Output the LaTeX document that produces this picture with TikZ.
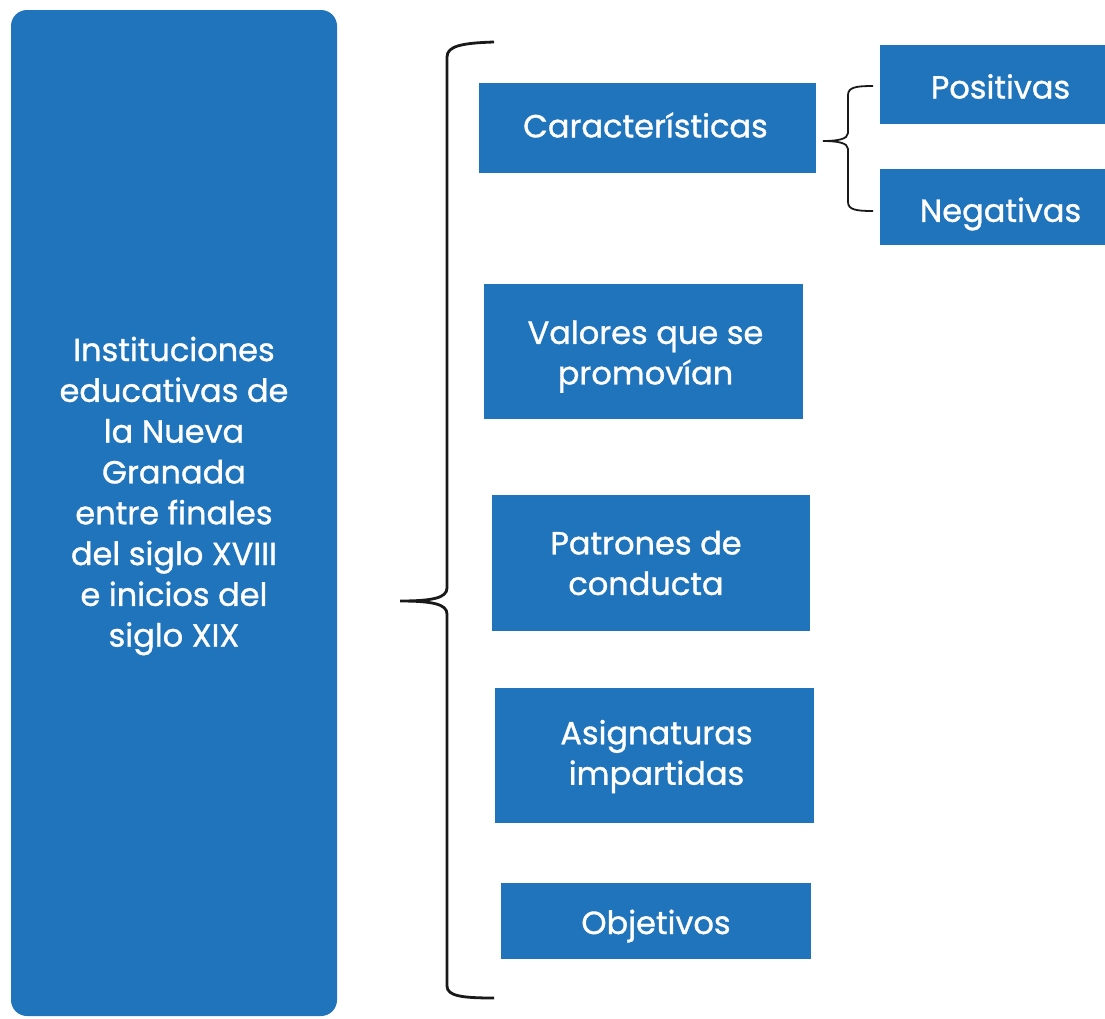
\documentclass[tikz,border=0pt]{standalone}
\usepackage{fontspec}
\setmainfont{Poppins}[FakeBold=1.0]
\definecolor{boxblue}{HTML}{1F74BC}
\begin{document}
\begin{tikzpicture}[x=1pt,y=-1pt,
  bx/.style={fill=boxblue,draw=none,text=white,font=\fontsize{32}{40.5}\selectfont,align=center,inner sep=0pt},
  brace/.style={line width=2.8pt,draw=black!90}]
\useasboundingbox (0,0) rectangle (1105,1018);
% main box
\fill[boxblue,rounded corners=16pt] (11,10) rectangle (337,1016);
\node[text=white,font=\fontsize{32}{40.8}\selectfont,align=center] (main) at (174,496)
  {Instituciones\\educativas de\\la Nueva\\Granada\\entre finales\\del siglo XVIII\\e inicios del\\siglo XIX};
% boxes
\fill[boxblue] (479,83) rectangle (816,173) node[midway,bx,xshift=-2pt,yshift=3pt] (car) {Características};
\fill[boxblue] (484,284) rectangle (803,419) node[midway,bx,xshift=2pt,yshift=-5pt] (val) {Valores que se\\promovían};
\fill[boxblue] (492,495) rectangle (810,631) node[midway,bx,xshift=-5pt] (pat) {Patrones de\\conducta};
\fill[boxblue] (495,688) rectangle (814,823) node[midway,bx,xshift=2pt,yshift=-1pt] (asi) {Asignaturas\\impartidas};
\fill[boxblue] (501,883) rectangle (811,959) node[midway,bx,yshift=-5pt] (obj) {Objetivos};
\fill[boxblue] (880,45) rectangle (1105,124) node[midway,bx,xshift=8pt,yshift=-2pt] (pos) {Positivas};
\fill[boxblue] (880,169) rectangle (1105,245) node[midway,bx,xshift=8pt,yshift=-7pt] (neg) {Negativas};
% big brace
\coordinate (btop) at (494,42);
\coordinate (btip) at (400,601);
\coordinate (bbot) at (494,998);
\draw[brace] (btop) .. controls (462,43) and (447,46) .. (447,57) -- (447,588)
  .. controls (447,598) and (432,601) .. (btip)
  .. controls (432,601) and (447,604) .. (447,614) -- (447,986)
  .. controls (447,996) and (462,998) .. (bbot);
% small brace
\coordinate (stop) at (873,86);
\coordinate (stip) at (823,141);
\coordinate (sbot) at (873,211);
\draw[line width=1.8pt,draw=black!90] (stop) .. controls (857,86) and (848,87) .. (848,95) -- (848,133)
  .. controls (848,139) and (838,141) .. (stip)
  .. controls (838,141) and (848,143) .. (848,149) -- (848,202)
  .. controls (848,210) and (857,211) .. (sbot);
\end{tikzpicture}
\end{document}
